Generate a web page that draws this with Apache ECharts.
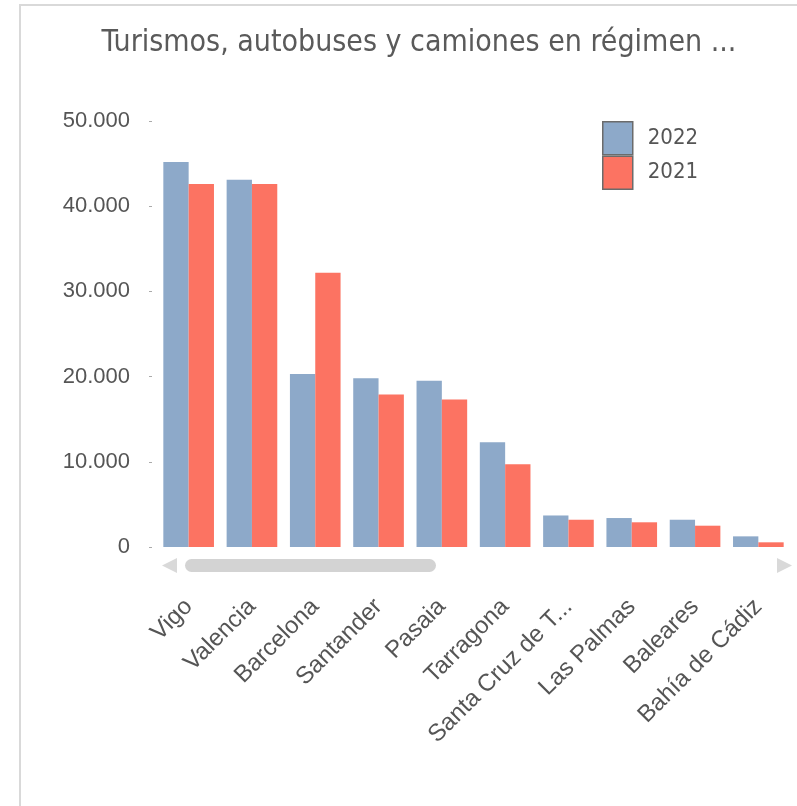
<!DOCTYPE html>
<html>
<head>
<meta charset="utf-8">
<script src="https://cdn.jsdelivr.net/npm/echarts@6/dist/echarts.min.js"></script>
<style>
html,body{margin:0;padding:0;background:#fff;}
#chart{width:797px;height:806px;}
</style>
</head>
<body>
<div id="chart"></div>
<script>
const titleText = "Turismos, autobuses y camiones en régimen ...";
const categories = ["Vigo","Valencia","Barcelona","Santander","Pasaia","Tarragona","Santa Cruz de T...","Las Palmas","Baleares","Bahía de Cádiz"];
const seriesNames = ["2022","2021"];
const values2022 = [45200,43100,20300,19800,19500,12300,3700,3400,3200,1250];
const values2021 = [42600,42600,32200,17900,17300,9700,3200,2900,2500,550];
const yTicks = [0,10000,20000,30000,40000,50000];

const chart = echarts.init(document.getElementById('chart'));
const txt = '#555555';
chart.setOption({
  animation: false,
  title: {
    text: titleText,
    left: 414, top: 23, textAlign: 'center',
    textStyle: {fontFamily: 'DejaVu Sans Condensed, sans-serif', fontSize: 30, fontWeight: 'normal', color: '#5a5a5a'}
  },
  legend: {
    orient: 'vertical', left: 602, top: 121, padding: 0,
    itemWidth: 30, itemHeight: 33, itemGap: 0, icon: 'rect',
    itemStyle: {borderColor: '#6b6b6b', borderWidth: 1.5},
    textStyle: {fontFamily: 'DejaVu Sans Condensed, sans-serif', fontSize: 22, color: txt, padding: [0,0,0,10]},
    data: seriesNames
  },
  grid: {left: 157, right: 7, top: 121, bottom: 259, containLabel: false},
  xAxis: {
    type: 'category', data: categories,
    axisLine: {show: false}, axisTick: {show: false},
    axisLabel: {rotate: 45, margin: 56, interval: 0, fontFamily: 'Liberation Sans, Arial, sans-serif', fontSize: 24, color: txt}
  },
  yAxis: {
    type: 'value', min: yTicks[0], max: yTicks[yTicks.length-1], interval: yTicks[1]-yTicks[0],
    offset: 5,
    splitLine: {show: false},
    axisLine: {show: false},
    axisTick: {show: true, length: 3, lineStyle: {color: '#aaaaaa'}},
    axisLabel: {margin: 22, fontFamily: 'Liberation Sans, Arial, sans-serif', fontSize: 22, color: txt,
      formatter: v => v.toLocaleString('de-DE')}
  },
  series: [
    {name: seriesNames[0], type: 'bar', data: values2022, barGap: '0%', barCategoryGap: '20%',
     itemStyle: {color: '#8DA9C9'}},
    {name: seriesNames[1], type: 'bar', data: values2021, barGap: '0%', barCategoryGap: '20%',
     itemStyle: {color: '#FC7362'}}
  ],
  graphic: [
    {type: 'rect', shape: {x: 20, y: 5, width: 800, height: 820}, style: {fill: 'none', stroke: '#d9d9d9', lineWidth: 2}, silent: true},
    {type: 'polygon', shape: {points: [[162,565.5],[177,558],[177,573]]}, style: {fill: '#d9d9d9'}, silent: true},
    {type: 'rect', shape: {x: 185, y: 559, width: 251, height: 13, r: 6.5}, style: {fill: '#d3d3d3'}, silent: true},
    {type: 'polygon', shape: {points: [[792,565.5],[777,558],[777,573]]}, style: {fill: '#d9d9d9'}, silent: true}
  ]
});
</script>
</body>
</html>
